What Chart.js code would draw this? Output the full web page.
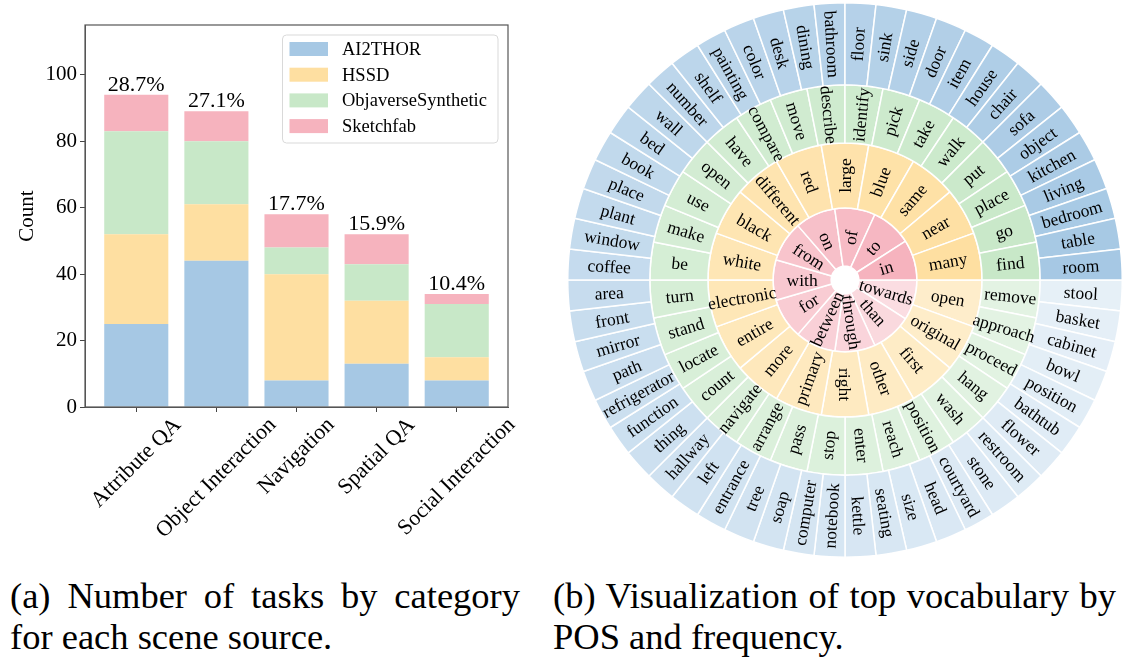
<!DOCTYPE html>
<html>
<head>
<meta charset="utf-8">
<script src="https://cdn.jsdelivr.net/npm/chart.js@4.4.1/dist/chart.umd.min.js"></script>
<style>
  html, body { margin: 0; padding: 0; background: #fff; }
  body { width: 1134px; height: 660px; position: relative; overflow: hidden;
         font-family: "Liberation Serif", "DejaVu Serif", serif; color: #000; }
  #barWrap { position: absolute; left: 0; top: 0; width: 540px; height: 560px; }
  #sunWrap { position: absolute; left: 567px; top: 2px; width: 556px; height: 556px; }
  .cap { position: absolute; font-size: 36.5px; line-height: 41px; white-space: nowrap; }
  .cap div:first-child { text-align: justify; text-align-last: justify; }
  #capA { left: 10px; top: 575px; width: 510px; }
  #capB { left: 553px; top: 575px; width: 563px; }
</style>
</head>
<body>
<div id="barWrap"><canvas id="bars"></canvas></div>
<div id="sunWrap"><canvas id="sun"></canvas></div>
<div class="cap" id="capA"><div>(a) Number of tasks by category</div><div>for each scene source.</div></div>
<div class="cap" id="capB"><div>(b) Visualization of top vocabulary by</div><div>POS and frequency.</div></div>

<script>
// ---- (a) task counts per category and scene source ----
const categories = ['Attribute QA', 'Object Interaction', 'Navigation', 'Spatial QA', 'Social Interaction'];
const ai2thor    = [25, 44, 8, 13, 8];
const hssd       = [27, 17, 32, 19, 7];
const objaverse  = [31, 19, 8, 11, 16];
const sketchfab  = [11, 9, 10, 9, 3];
const shareLabels = ['28.7%', '27.1%', '17.7%', '15.9%', '10.4%'];
const yTicks = [0, 20, 40, 60, 80, 100];

// ---- (b) top vocabulary, most frequent first ----
const nouns = ['room', 'table', 'bedroom', 'living', 'kitchen', 'object', 'sofa', 'chair', 'house', 'item',
  'door', 'side', 'sink', 'floor', 'bathroom', 'dining', 'desk', 'color', 'painting', 'shelf', 'number',
  'wall', 'bed', 'book', 'place', 'plant', 'window', 'coffee', 'area', 'front', 'mirror', 'path',
  'refrigerator', 'function', 'thing', 'hallway', 'left', 'entrance', 'tree', 'soap', 'computer',
  'notebook', 'kettle', 'seating', 'size', 'head', 'courtyard', 'stone', 'restroom', 'flower', 'bathtub',
  'position', 'bowl', 'cabinet', 'basket', 'stool'];
const verbs = ['find', 'go', 'place', 'put', 'walk', 'take', 'pick', 'identify', 'describe', 'move', 'compare',
  'have', 'open', 'use', 'make', 'be', 'turn', 'stand', 'locate', 'count', 'navigate', 'arrange', 'pass',
  'stop', 'enter', 'reach', 'position', 'wash', 'hang', 'proceed', 'approach', 'remove'];
const adjectives = ['many', 'near', 'same', 'blue', 'large', 'red', 'different', 'black', 'white', 'electronic',
  'entire', 'more', 'primary', 'right', 'other', 'first', 'original', 'open'];
const prepositions = ['in', 'to', 'of', 'on', 'from', 'with', 'for', 'between', 'through', 'than', 'towards'];

const SERIF = '"Liberation Serif", "DejaVu Serif", serif';
Chart.defaults.font.family = SERIF;
Chart.defaults.color = '#000';

const BLUE = '166,200,228', ORANGE = '254,223,161', GREEN = '200,232,200', PINK = '246,179,190';

function barSet(label, values, rgb) {
  return {
    label: label,
    data: values.map((v, i) => ({ x: i, y: v })),
    backgroundColor: `rgb(${rgb})`,
    borderWidth: 0
  };
}

// frame, percentages, rotated category names and legend box
const barExtras = {
  id: 'barExtras',
  afterDatasetsDraw(chart) {
    const { ctx, chartArea: a, scales: { x } } = chart;
    ctx.save();
    ctx.strokeStyle = '#555';
    ctx.lineWidth = 1.2;
    ctx.strokeRect(a.left, a.top, a.right - a.left, a.bottom - a.top);

    ctx.fillStyle = '#000';
    ctx.font = '22px ' + SERIF;
    ctx.textAlign = 'center';
    ctx.textBaseline = 'bottom';
    const topMeta = chart.getDatasetMeta(chart.data.datasets.length - 1);
    topMeta.data.forEach((bar, i) => ctx.fillText(shareLabels[i], bar.x, bar.y + 1));

    ctx.font = '22px ' + SERIF;
    ctx.textBaseline = 'middle';
    categories.forEach((name, i) => {
      const px = x.getPixelForValue(i);
      const w = ctx.measureText(name).width;
      const side = (w + 16) * Math.SQRT1_2;
      ctx.save();
      ctx.translate(px, a.bottom + 9 + side / 2);
      ctx.rotate(-Math.PI / 4);
      ctx.fillText(name, 0, 0);
      ctx.restore();
    });

    // legend
    const lx = 282.5, ly = 35, lw = 215.5, lh = 108;
    ctx.beginPath();
    ctx.roundRect(lx, ly, lw, lh, 4);
    ctx.fillStyle = 'rgba(255,255,255,0.85)';
    ctx.fill();
    ctx.strokeStyle = '#d9d9d9';
    ctx.lineWidth = 1;
    ctx.stroke();
    ctx.font = '18.5px ' + SERIF;
    ctx.textAlign = 'left';
    chart.data.datasets.forEach((ds, i) => {
      const cy = 49 + i * 25.7;
      ctx.fillStyle = ds.backgroundColor;
      ctx.fillRect(289.5, cy - 7, 38.5, 14);
      ctx.fillStyle = '#000';
      ctx.fillText(ds.label, 342, cy + 1);
    });
    ctx.restore();
  }
};

new Chart(document.getElementById('bars'), {
  type: 'bar',
  data: {
    datasets: [
      barSet('AI2THOR', ai2thor, BLUE),
      barSet('HSSD', hssd, ORANGE),
      barSet('ObjaverseSynthetic', objaverse, GREEN),
      barSet('Sketchfab', sketchfab, PINK)
    ]
  },
  options: {
    responsive: true,
    maintainAspectRatio: false,
    animation: false,
    layout: { padding: { left: 0, top: 25, right: 32, bottom: 0 } },
    datasets: { bar: { barPercentage: 0.8, categoryPercentage: 1 } },
    plugins: { legend: { display: false }, tooltip: { enabled: false } },
    scales: {
      x: {
        type: 'linear',
        stacked: true,
        bounds: 'data',
        offset: false,
        grace: 0,
        min: -0.64,
        max: 4.64,
        afterBuildTicks: axis => { axis.ticks = categories.map((c, i) => ({ value: i })); },
        afterFit: scale => { scale.height = 153; },
        ticks: { display: false },
        grid: { drawOnChartArea: false, offset: false, tickLength: 5, color: '#444' },
        border: { color: '#555' }
      },
      y: {
        stacked: true,
        min: 0,
        max: 115,
        afterBuildTicks: axis => { axis.ticks = yTicks.map(v => ({ value: v })); },
        afterFit: scale => { scale.width = 85; },
        ticks: { font: { size: 21 }, color: '#000', padding: 3 },
        grid: { drawOnChartArea: false, tickLength: 5, color: '#444' },
        border: { color: '#555' },
        title: { display: true, text: 'Count', font: { size: 21 }, color: '#000', padding: { top: 15, bottom: 0 } }
      }
    }
  },
  plugins: [barExtras]
});

// ---- sunburst: outer ring first ----
const rings = [
  { words: nouns, rgb: BLUE, weight: 82, fade: 0.72 },
  { words: verbs, rgb: GREEN, weight: 58, fade: 0.5 },
  { words: adjectives, rgb: ORANGE, weight: 65, fade: 0.45 },
  { words: prepositions, rgb: PINK, weight: 58, fade: 0.55 }
];

// Chart.js runs clockwise, the figure runs counter-clockwise from 3 o'clock, so reverse each ring
const sunSets = rings.map(r => {
  const n = r.words.length;
  const colors = r.words.map((w, i) => `rgba(${r.rgb},${(1 - r.fade * i / (n - 1)).toFixed(3)})`);
  return {
    data: r.words.map(() => 1),
    words: r.words.slice().reverse(),
    backgroundColor: colors.reverse(),
    borderColor: '#fff',
    borderWidth: 1.5,
    weight: r.weight
  };
});

const ringText = {
  id: 'ringText',
  afterDatasetsDraw(chart) {
    const ctx = chart.ctx;
    ctx.save();
    ctx.font = '17.5px ' + SERIF;
    ctx.fillStyle = '#000';
    ctx.textAlign = 'center';
    ctx.textBaseline = 'middle';
    chart.data.datasets.forEach((ds, di) => {
      chart.getDatasetMeta(di).data.forEach((arc, j) => {
        const p = arc.getProps(['x', 'y', 'startAngle', 'endAngle', 'innerRadius', 'outerRadius']);
        const a = (p.startAngle + p.endAngle) / 2;
        const r = (p.innerRadius + p.outerRadius) / 2;
        ctx.save();
        ctx.translate(p.x + r * Math.cos(a), p.y + r * Math.sin(a));
        ctx.rotate(Math.cos(a) < -1e-6 ? a + Math.PI : a);
        ctx.fillText(ds.words[j], 0, 1);
        ctx.restore();
      });
    });
    ctx.restore();
  }
};

new Chart(document.getElementById('sun'), {
  type: 'doughnut',
  data: { datasets: sunSets },
  options: {
    responsive: true,
    maintainAspectRatio: false,
    animation: false,
    rotation: 90,
    cutout: '5%',
    layout: { padding: 0 },
    plugins: { legend: { display: false }, tooltip: { enabled: false } }
  },
  plugins: [ringText]
});
</script>
</body>
</html>
